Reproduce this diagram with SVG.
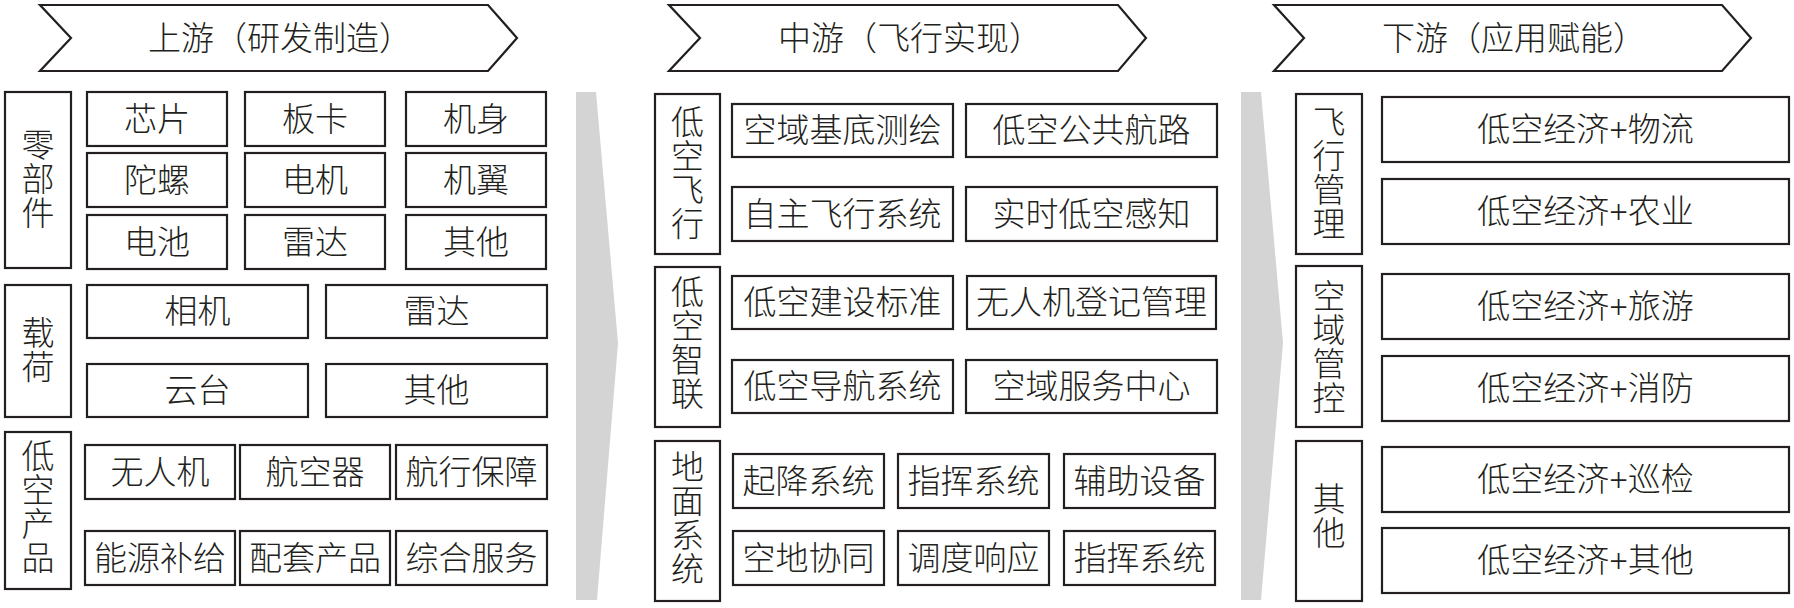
<svg xmlns="http://www.w3.org/2000/svg" width="1794" height="608" viewBox="0 0 1794 608">
<style>
.bg{fill:#ffffff}
.box{fill:#ffffff;stroke:#231f20;stroke-width:2.2}
.band{fill:#d4d4d4;stroke:none}
.t{font-family:"Liberation Serif","Noto Sans CJK SC",serif;font-size:33px;font-weight:300;fill:#231f20;text-anchor:middle;dominant-baseline:central}
</style>
<rect class="bg" x="0" y="0" width="1794" height="608"/>
<g id="connectors">
<polygon class="band" points="576,92 596,92 618,343 597,600 576,600"/>
<polygon class="band" points="1241,92 1261,92 1283,343 1261,600 1241,600"/>
</g>
<g id="header-upstream">
<polygon class="box" points="40,5 488,5 517,38 488,71 40,71 71,38"/>
<text class="t" x="280" y="39">上游（研发制造）</text>
</g>
<g id="header-midstream">
<polygon class="box" points="669,5 1118,5 1146,38 1118,71 669,71 700,38"/>
<text class="t" x="910" y="39">中游（飞行实现）</text>
</g>
<g id="header-downstream">
<polygon class="box" points="1274,5 1722,5 1751,38 1722,71 1274,71 1304,38"/>
<text class="t" x="1514" y="39">下游（应用赋能）</text>
</g>
<g id="upstream-parts">
<rect class="box" x="5" y="92" width="66" height="176"/>
<text class="t"><tspan x="38" y="146">零</tspan><tspan x="38" y="180">部</tspan><tspan x="38" y="214">件</tspan></text>
<rect class="box" x="87" y="92" width="140" height="54"/><text class="t" x="157" y="120">芯片</text>
<rect class="box" x="245" y="92" width="140" height="54"/><text class="t" x="315" y="120">板卡</text>
<rect class="box" x="406" y="92" width="140" height="54"/><text class="t" x="476" y="120">机身</text>
<rect class="box" x="87" y="153" width="140" height="54"/><text class="t" x="157" y="181">陀螺</text>
<rect class="box" x="245" y="153" width="140" height="54"/><text class="t" x="315" y="181">电机</text>
<rect class="box" x="406" y="153" width="140" height="54"/><text class="t" x="476" y="181">机翼</text>
<rect class="box" x="87" y="215" width="140" height="54"/><text class="t" x="157" y="243">电池</text>
<rect class="box" x="245" y="215" width="140" height="54"/><text class="t" x="315" y="243">雷达</text>
<rect class="box" x="406" y="215" width="140" height="54"/><text class="t" x="476" y="243">其他</text>
</g>
<g id="upstream-payload">
<rect class="box" x="5" y="285" width="66" height="132"/>
<text class="t"><tspan x="38" y="334">载</tspan><tspan x="38" y="368">荷</tspan></text>
<rect class="box" x="87" y="285" width="221" height="53"/><text class="t" x="197.5" y="312">相机</text>
<rect class="box" x="326" y="285" width="221" height="53"/><text class="t" x="436.5" y="312">雷达</text>
<rect class="box" x="87" y="364" width="221" height="53"/><text class="t" x="197.5" y="391">云台</text>
<rect class="box" x="326" y="364" width="221" height="53"/><text class="t" x="436.5" y="391">其他</text>
</g>
<g id="upstream-products">
<rect class="box" x="5" y="432" width="66" height="157"/>
<text class="t"><tspan x="38" y="457">低</tspan><tspan x="38" y="491">空</tspan><tspan x="38" y="525">产</tspan><tspan x="38" y="559">品</tspan></text>
<rect class="box" x="85" y="445" width="150" height="54"/><text class="t" x="160" y="473">无人机</text>
<rect class="box" x="240" y="445" width="150" height="54"/><text class="t" x="315" y="473">航空器</text>
<rect class="box" x="396" y="445" width="151" height="54"/><text class="t" x="471.5" y="473">航行保障</text>
<rect class="box" x="85" y="531" width="150" height="54"/><text class="t" x="160" y="559">能源补给</text>
<rect class="box" x="240" y="531" width="150" height="54"/><text class="t" x="315" y="559">配套产品</text>
<rect class="box" x="396" y="531" width="151" height="54"/><text class="t" x="471.5" y="559">综合服务</text>
</g>
<g id="mid-flight">
<rect class="box" x="655" y="94" width="65" height="160"/>
<text class="t"><tspan x="687.5" y="123">低</tspan><tspan x="687.5" y="157">空</tspan><tspan x="687.5" y="191">飞</tspan><tspan x="687.5" y="225">行</tspan></text>
<rect class="box" x="732" y="104" width="221" height="53"/><text class="t" x="842.5" y="131">空域基底测绘</text>
<rect class="box" x="966" y="104" width="251" height="53"/><text class="t" x="1091.5" y="131">低空公共航路</text>
<rect class="box" x="732" y="187" width="221" height="54"/><text class="t" x="842.5" y="215">自主飞行系统</text>
<rect class="box" x="966" y="187" width="251" height="54"/><text class="t" x="1091.5" y="215">实时低空感知</text>
</g>
<g id="mid-smart">
<rect class="box" x="655" y="267" width="65" height="160"/>
<text class="t"><tspan x="687.5" y="293">低</tspan><tspan x="687.5" y="327">空</tspan><tspan x="687.5" y="361">智</tspan><tspan x="687.5" y="395">联</tspan></text>
<rect class="box" x="732" y="276" width="221" height="53"/><text class="t" x="842.5" y="303">低空建设标准</text>
<rect class="box" x="967" y="276" width="249" height="53"/><text class="t" x="1091.5" y="303">无人机登记管理</text>
<rect class="box" x="732" y="360" width="221" height="53"/><text class="t" x="842.5" y="387">低空导航系统</text>
<rect class="box" x="966" y="360" width="251" height="53"/><text class="t" x="1091.5" y="387">空域服务中心</text>
</g>
<g id="mid-ground">
<rect class="box" x="655" y="441" width="65" height="160"/>
<text class="t"><tspan x="687.5" y="468">地</tspan><tspan x="687.5" y="502">面</tspan><tspan x="687.5" y="536">系</tspan><tspan x="687.5" y="570">统</tspan></text>
<rect class="box" x="733" y="454" width="151" height="54"/><text class="t" x="808.5" y="482">起降系统</text>
<rect class="box" x="898" y="454" width="151" height="54"/><text class="t" x="973.5" y="482">指挥系统</text>
<rect class="box" x="1064" y="454" width="151" height="54"/><text class="t" x="1139.5" y="482">辅助设备</text>
<rect class="box" x="733" y="531" width="151" height="54"/><text class="t" x="808.5" y="559">空地协同</text>
<rect class="box" x="898" y="531" width="151" height="54"/><text class="t" x="973.5" y="559">调度响应</text>
<rect class="box" x="1064" y="531" width="151" height="54"/><text class="t" x="1139.5" y="559">指挥系统</text>
</g>
<g id="down-flight-mgmt">
<rect class="box" x="1296" y="94" width="66" height="160"/>
<text class="t"><tspan x="1329" y="123">飞</tspan><tspan x="1329" y="157">行</tspan><tspan x="1329" y="191">管</tspan><tspan x="1329" y="225">理</tspan></text>
<rect class="box" x="1382" y="97" width="407" height="65"/><text class="t" x="1585.5" y="130">低空经济+物流</text>
<rect class="box" x="1382" y="179" width="407" height="65"/><text class="t" x="1585.5" y="212">低空经济+农业</text>
</g>
<g id="down-airspace">
<rect class="box" x="1296" y="266" width="66" height="161"/>
<text class="t"><tspan x="1329" y="297">空</tspan><tspan x="1329" y="331">域</tspan><tspan x="1329" y="365">管</tspan><tspan x="1329" y="399">控</tspan></text>
<rect class="box" x="1382" y="274" width="407" height="65"/><text class="t" x="1585.5" y="307">低空经济+旅游</text>
<rect class="box" x="1382" y="356" width="407" height="65"/><text class="t" x="1585.5" y="389">低空经济+消防</text>
</g>
<g id="down-other">
<rect class="box" x="1296" y="441" width="66" height="160"/>
<text class="t"><tspan x="1329" y="500">其</tspan><tspan x="1329" y="534">他</tspan></text>
<rect class="box" x="1382" y="447" width="407" height="65"/><text class="t" x="1585.5" y="480">低空经济+巡检</text>
<rect class="box" x="1382" y="528" width="407" height="65"/><text class="t" x="1585.5" y="561">低空经济+其他</text>
</g>
</svg>
